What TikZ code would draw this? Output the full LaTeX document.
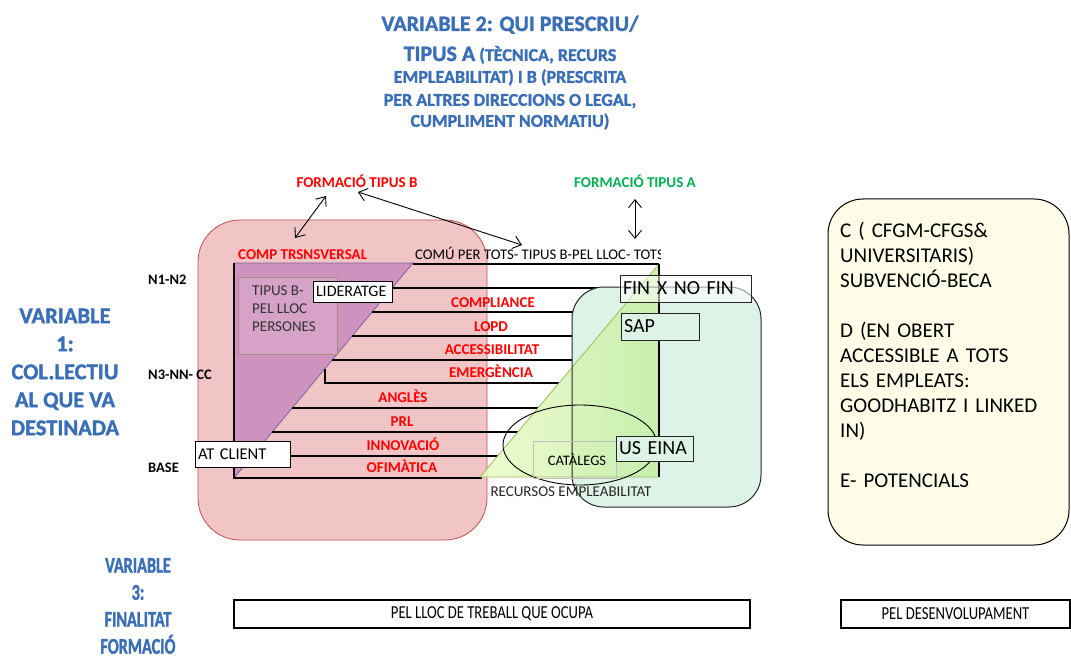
\documentclass[tikz,border=0pt]{standalone}
\usepackage{fontspec}
\setmainfont{Carlito}
\newfontfamily\schmal[FakeStretch=0.8]{Carlito}
\newfontfamily\titelfont[FakeBold=1.4]{Carlito}
\newfontfamily\titelschmal[FakeStretch=0.72,FakeBold=1.4]{Carlito}
\usepackage{xcolor}
\usepackage{tikz}
\usetikzlibrary{
    shapes.geometric,
    arrows.meta,
    positioning
}
\definecolor{rosa}{RGB}{241,196,197}
\definecolor{rosarand}{RGB}{192,80,77}
\definecolor{lila}{RGB}{205,146,189}
\definecolor{lilarand}{RGB}{128,100,162}
\definecolor{lilahell}{RGB}{214,162,199}
\definecolor{graubraun}{RGB}{172,138,128}
\definecolor{minze}{RGB}{222,243,231}
\definecolor{limhell}{RGB}{234,251,198}
\definecolor{limdunkel}{RGB}{196,238,164}
\definecolor{limrand}{RGB}{155,187,89}
\definecolor{creme}{RGB}{254,254,232}
\definecolor{titelblau}{RGB}{58,110,182}
\definecolor{gruen}{RGB}{0,176,80}
\definecolor{rot}{RGB}{255,0,0}

\tikzstyle{dblarrow} = [
    line width=0.9pt,
    {Straight Barb[length=8pt,width=13pt]}-{Straight Barb[length=8pt,width=13pt]}
]
\tikzstyle{rung} = [line width=1.8pt]
\tikzstyle{redlabel} = [
    text=rot, inner sep=0pt, text height=9.7pt, text depth=0pt,
    font=\fontsize{15}{18}\selectfont\bfseries
]
\tikzstyle{levellabel} = [
    anchor=west, inner sep=0pt, text height=9.3pt, text depth=0pt,
    font=\fontsize{14.5}{17}\selectfont\bfseries
]
\tikzstyle{bluetitle} = [
    text=titelblau, inner sep=0pt, align=center
]
\tikzstyle{labelbox} = [
    draw, line width=0.9pt, inner xsep=3pt, inner ysep=0pt, align=left
]

\begin{document}
\begin{tikzpicture}[x=1pt, y=-1pt]
% Rahmen des Bildes
\useasboundingbox (0,0) rectangle (1071,663);

% Variable 2 oben
\node[bluetitle, text height=14pt, text depth=0pt, font=\titelfont\fontsize{22}{24}\selectfont\bfseries]
    (vTwoA) at (510,24) {VARIABLE 2: QUI PRESCRIU/};
\node[bluetitle, text height=14pt, text depth=0pt, font=\titelfont\fontsize{18}{20}\selectfont\bfseries]
    (vTwoB) at (510,54) {{\fontsize{22}{24}\selectfont TIPUS A} (TÈCNICA, RECURS};
\node[bluetitle, text height=11.6pt, text depth=0pt, font=\titelfont\fontsize{18}{20}\selectfont\bfseries]
    (vTwoC) at (510,77) {EMPLEABILITAT) I B (PRESCRITA};
\node[bluetitle, text height=11.6pt, text depth=0pt, font=\titelfont\fontsize{18}{20}\selectfont\bfseries]
    (vTwoD) at (510,100) {PER ALTRES DIRECCIONS O LEGAL,};
\node[bluetitle, text height=11.6pt, text depth=0pt, font=\titelfont\fontsize{18}{20}\selectfont\bfseries]
    (vTwoE) at (510,121) {CUMPLIMENT NORMATIU)};

% Variable 1 und 3 links
\node[bluetitle, font=\titelfont\fontsize{22.5}{28}\selectfont\bfseries]
    (vOne) at (65,372) {VARIABLE\\1:\\COL.LECTIU\\AL QUE VA\\DESTINADA};
\node[bluetitle, font=\titelschmal\fontsize{22.5}{27}\selectfont\bfseries]
    (vThree) at (138,606) {VARIABLE\\3:\\FINALITAT\\FORMACIÓ};

% Rosa Bereich
\draw[draw=rosarand, fill=rosa, line width=0.8pt, rounded corners=42pt]
    (198,220) rectangle (487,540);

% Dreieck TIPUS B
\draw[draw=lilarand, fill=lila, line width=0.8pt]
    (234,263) -- (413,263) -- (234,478) -- cycle;
\draw[draw=graubraun, fill=lilahell, line width=0.6pt] (238,277) rectangle (337,354);
\node[anchor=north west, align=left, inner sep=0pt, text=black!80,
    font=\fontsize{15}{18}\selectfont] (tipusB) at (252,286) {TIPUS B-\\PEL LLOC\\PERSONES};

% Stufen
\foreach \y in {288,312,336,360,408,432,456} {
    \draw[rung] ({234+0.8326*(478-\y)},\y) -- ({480+0.8404*(477-\y)},\y);
}
\draw[rung] (325,369) -- (325,383) -- (559,383);
\draw[rung] (413,264) -- (659,264);
\draw[rung] (234,263) -- (234,478) -- (482,478);

% Gruener Bereich
\fill[minze, rounded corners=32pt] (572,287) rectangle (761,507);
\shade[left color=limhell, right color=limdunkel, fill opacity=0.85]
    (480,477) -- (659,264) -- (659,477) -- cycle;
\draw[limrand, line width=0.8pt] (480,477) -- (659,264) -- (659,477) -- cycle;
\draw[black!85, line width=1pt, rounded corners=32pt] (572,287) rectangle (761,507);
\draw[rung] (659,264) -- (659,477);

% Ressourcen
\node[ellipse, draw, line width=0.9pt, minimum width=154, minimum height=80]
    (recEll) at (580,445) {};
\node[draw=black!25, line width=0.8pt, minimum width=83, minimum height=37,
    font=\fontsize{14.5}{17}\selectfont] (catalegs) at (574.5,459.5) {\hspace{5pt}CATÀLEGS};
\node[text=black!85, inner sep=0pt, font=\fontsize{15}{17}\selectfont]
    (recursos) at (571,492) {RECURSOS EMPLEABILITAT};

% Kaestchen mit Text
\node[labelbox, fill=white, text width=73pt, minimum height=21pt,
    font=\fontsize{16}{18}\selectfont] (lider) at (352.5,291.5) {LIDERATGE};
\node[labelbox, fill=white, text width=89pt, minimum height=26pt,
    font=\fontsize{16.5}{18}\selectfont] (atclient) at (242.5,454) {AT CLIENT};
\node[labelbox, draw=black!85, fill=white, fill opacity=0.55, text opacity=1, text width=125pt,
    minimum height=27pt, font=\fontsize{20}{22}\selectfont] (finx) at (685.5,288.5) {FIN X NO FIN};
\node[labelbox, draw=black!85, fill=minze, text width=72pt, minimum height=27pt,
    font=\fontsize{20}{22}\selectfont] (sap) at (660,326.5) {SAP};
\node[labelbox, draw=black!85, fill=minze, text width=71pt, minimum height=25pt,
    font=\fontsize{20}{22}\selectfont] (useina) at (654.5,448.5) {US EINA};

% Beschriftungen der Stufen
\node[redlabel, anchor=west] (comp) at (238,255) {COMP TRSNSVERSAL};
\begin{scope}
    \clip (413,240) rectangle (660,270);
    \node[anchor=west, inner sep=0pt, text height=9.5pt, text depth=0pt,
        font=\fontsize{14.7}{17}\selectfont] (comu) at (415,255) {COMÚ PER TOTS- TIPUS B-PEL LLOC- TOTS};
\end{scope}
\node[redlabel] (compl) at (493,303) {COMPLIANCE};
\node[redlabel] (lopd) at (491,327) {LOPD};
\node[redlabel] (acces) at (492,350) {ACCESSIBILITAT};
\node[redlabel] (emerg) at (491,373) {EMERGÈNCIA};
\node[redlabel] (angles) at (403,398) {ANGLÈS};
\node[redlabel] (prl) at (402,422) {PRL};
\node[redlabel] (innov) at (403,446) {INNOVACIÓ};
\node[redlabel] (ofim) at (402,468) {OFIMÀTICA};

% Niveaus
\node[levellabel] (nOne) at (148,280) {N1-N2};
\node[levellabel] (nThree) at (148,375) {N3-NN- CC};
\node[levellabel] (base) at (148,468) {BASE};

% Formacio A und B
\node[redlabel] (ftB) at (357,183) {FORMACIÓ TIPUS B};
\node[redlabel, text=gruen] (ftA) at (635,183) {FORMACIÓ TIPUS A};
\coordinate (ftBl) at (326,196);
\coordinate (compTop) at (295,238);
\coordinate (ftBr) at (358,192);
\coordinate (comuTop) at (522,245);
\coordinate (ftAt) at (635,199);
\coordinate (ftAb) at (635,239);
\draw[dblarrow] (ftBl) -- (compTop);
\draw[dblarrow] (ftBr) -- (comuTop);
\draw[dblarrow] (ftAt) -- (ftAb);

% Kasten rechts
\draw[fill=creme, line width=1pt, rounded corners=35pt] (828,199) rectangle (1069,545);
\node[anchor=north west, align=left, text width=225pt, inner sep=0pt,
    font=\fontsize{21}{25}\selectfont] (ctext) at (840,222)
    {C ( CFGM-CFGS\&\\UNIVERSITARIS)\\SUBVENCIÓ-BECA\\[25pt]D (EN OBERT\\ACCESSIBLE A TOTS\\ELS EMPLEATS:\\GOODHABITZ I LINKED\\IN)\\[25pt]E- POTENCIALS};

% Finalitat unten
\node[draw, line width=1.5pt, minimum width=516pt, minimum height=28pt,
    font=\schmal\fontsize{18.3}{20}\selectfont] (lloc) at (492,614) {PEL LLOC DE TREBALL QUE OCUPA};
\node[draw, line width=1.5pt, minimum width=229pt, minimum height=28pt,
    font=\schmal\fontsize{18.3}{20}\selectfont] (desenv) at (955.5,614) {PEL DESENVOLUPAMENT};
\end{tikzpicture}
\end{document}
